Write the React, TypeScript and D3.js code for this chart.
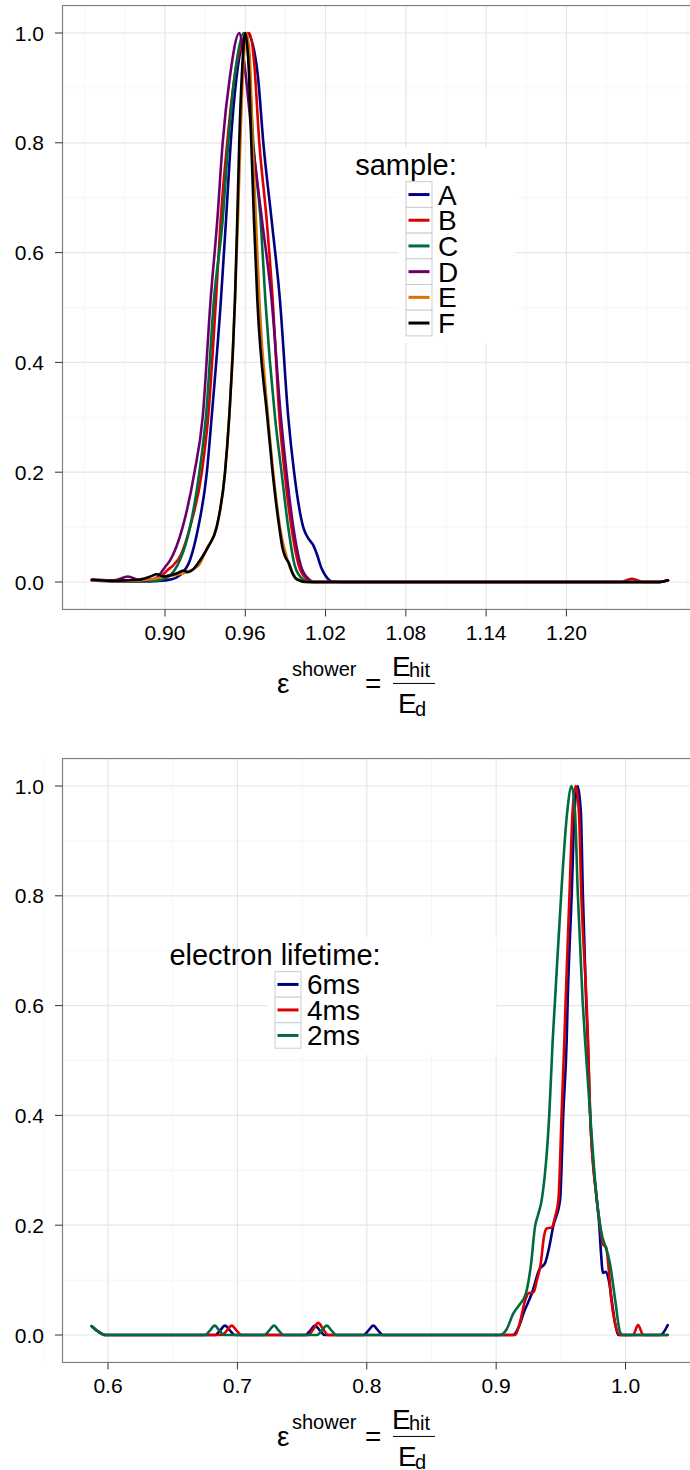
import React from 'react';
import * as d3 from 'd3';

// ---------- data ----------
const topXTicks = [0.9, 0.96, 1.02, 1.08, 1.14, 1.2];
const topXTickLabels = ['0.90', '0.96', '1.02', '1.08', '1.14', '1.20'];
const topXMinor = [0.84, 0.87, 0.93, 0.99, 1.05, 1.11, 1.17, 1.23, 1.26, 1.29];
const bottomXTicks = [0.6, 0.7, 0.8, 0.9, 1.0];
const bottomXTickLabels = ['0.6', '0.7', '0.8', '0.9', '1.0'];
const bottomXMinor = [0.55, 0.65, 0.75, 0.85, 0.95, 1.05];
const yTicks = [0, 0.2, 0.4, 0.6, 0.8, 1.0];
const yTickLabels = ['0.0', '0.2', '0.4', '0.6', '0.8', '1.0'];
const yMinor = [0.1, 0.3, 0.5, 0.7, 0.9];

const sampleNames = ['A', 'B', 'C', 'D', 'E', 'F'];
const sampleColors = ['#000080', '#dd0000', '#006b3c', '#6b006b', '#d97200', '#000000'];
const lifetimeNames = ['6ms', '4ms', '2ms'];
const lifetimeColors = ['#000080', '#dd0000', '#006b3c'];

type P = [number, number];

const topA: P[] = [[0.8454,0.003],[0.870,0.001],[0.895,0.002],[0.905,0.005],[0.911,0.012],[0.9187,0.04],[0.9249,0.1],[0.9312,0.198],[0.9349,0.301],[0.9418,0.514],[0.9456,0.659],[0.9491,0.8],[0.9535,0.92],[0.9575,0.98],[0.9615,1.0],[0.9655,0.98],[0.9695,0.92],[0.9735,0.8],[0.9797,0.659],[0.9859,0.514],[0.9921,0.301],[0.9966,0.198],[1.0033,0.1],[1.0075,0.078],[1.0106,0.068],[1.0136,0.05],[1.017,0.025],[1.021,0.008],[1.0246,0.001],[1.04,0],[1.27,0],[1.2759,0.003]];
const topB: P[] = [[0.8454,0.003],[0.875,0.002],[0.89,0.003],[0.897,0.01],[0.902,0.022],[0.906,0.03],[0.912,0.05],[0.9187,0.1],[0.9274,0.198],[0.9323,0.301],[0.9381,0.514],[0.9416,0.659],[0.9465,0.8],[0.952,0.92],[0.958,0.985],[0.963,1.0],[0.9665,0.95],[0.9705,0.8],[0.976,0.659],[0.9805,0.514],[0.9855,0.301],[0.9895,0.198],[0.9945,0.1],[1.0,0.03],[1.006,0.005],[1.01,0],[1.24,0],[1.2489,0.006],[1.258,0],[1.27,0],[1.2759,0.003]];
const topC: P[] = [[0.8454,0.004],[0.87,0.002],[0.889,0.001],[0.8985,0.005],[0.9067,0.02],[0.9112,0.04],[0.9187,0.1],[0.9256,0.198],[0.9306,0.301],[0.9366,0.514],[0.9431,0.659],[0.9473,0.8],[0.9525,0.93],[0.959,1.0],[0.9625,0.95],[0.966,0.8],[0.9715,0.659],[0.975,0.514],[0.9822,0.301],[0.9872,0.198],[0.9921,0.1],[0.997,0.03],[1.003,0.005],[1.008,0],[1.27,0],[1.2759,0.003]];
const topD: P[] = [[0.8454,0.004],[0.862,0.003],[0.8723,0.01],[0.88,0.004],[0.887,0.003],[0.8938,0.008],[0.9,0.027],[0.9037,0.039],[0.9132,0.1],[0.9219,0.198],[0.9282,0.301],[0.9341,0.514],[0.9391,0.659],[0.9431,0.8],[0.9485,0.92],[0.9555,1.0],[0.959,0.95],[0.9655,0.8],[0.9725,0.659],[0.9797,0.514],[0.9866,0.301],[0.9909,0.198],[0.9959,0.1],[1.0015,0.03],[1.0075,0.005],[1.011,0],[1.27,0],[1.2759,0.003]];
const topE: P[] = [[0.8454,0.003],[0.87,0.002],[0.89,0.005],[0.9,0.01],[0.912,0.015],[0.925,0.03],[0.931,0.06],[0.9386,0.1],[0.9448,0.198],[0.948,0.301],[0.9523,0.514],[0.9545,0.659],[0.9563,0.8],[0.9585,0.94],[0.961,1.0],[0.9635,0.95],[0.9655,0.8],[0.968,0.659],[0.9705,0.514],[0.977,0.301],[0.981,0.198],[0.9859,0.1],[0.9915,0.04],[0.999,0.005],[1.006,0],[1.27,0],[1.2759,0.003]];
const topF: P[] = [[0.8454,0.004],[0.86,0.002],[0.88,0.004],[0.889,0.01],[0.8938,0.014],[0.899,0.01],[0.9037,0.012],[0.909,0.016],[0.9137,0.021],[0.917,0.018],[0.9205,0.022],[0.9249,0.035],[0.929,0.05],[0.9323,0.064],[0.9386,0.1],[0.9448,0.198],[0.948,0.301],[0.9523,0.514],[0.954,0.659],[0.9555,0.8],[0.9578,0.94],[0.96,1.0],[0.9625,0.94],[0.9645,0.8],[0.9665,0.659],[0.969,0.514],[0.9764,0.301],[0.9805,0.198],[0.9854,0.1],[0.988,0.06],[0.99,0.045],[0.9925,0.035],[0.995,0.018],[0.9984,0.005],[1.006,0],[1.27,0],[1.2759,0.003]];

const bot6ms: P[] = [[0.5874,0.016],[0.5925,0.006],[0.5977,0],[0.683,0],[0.6865,0.008],[0.6904,0.017],[0.6943,0.008],[0.698,0],[0.7525,0],[0.7562,0.008],[0.76,0.017],[0.7638,0.008],[0.7675,0],[0.7975,0],[0.8012,0.008],[0.805,0.017],[0.8088,0.008],[0.8125,0],[0.913,0],[0.9175,0.015],[0.9212,0.04],[0.9276,0.076],[0.9335,0.12],[0.9378,0.131],[0.941,0.16],[0.944,0.197],[0.9494,0.246],[0.9519,0.404],[0.9545,0.537],[0.9553,0.61],[0.9584,0.804],[0.9605,0.95],[0.963,1.0],[0.9655,0.95],[0.967,0.804],[0.9695,0.61],[0.9708,0.537],[0.9726,0.404],[0.9778,0.246],[0.9798,0.197],[0.981,0.15],[0.9826,0.113],[0.9845,0.115],[0.987,0.1],[0.9893,0.064],[0.992,0.02],[0.9944,0],[1.027,0],[1.0326,0.018]];
const bot4ms: P[] = [[0.5874,0.016],[0.5925,0.006],[0.5977,0],[0.688,0],[0.6918,0.008],[0.6956,0.017],[0.6994,0.008],[0.7032,0],[0.755,0],[0.7588,0.011],[0.7625,0.022],[0.7662,0.011],[0.77,0],[0.9146,0],[0.9185,0.024],[0.922,0.06],[0.925,0.076],[0.929,0.078],[0.9315,0.1],[0.9345,0.131],[0.937,0.18],[0.939,0.194],[0.943,0.196],[0.9455,0.215],[0.9481,0.246],[0.9506,0.404],[0.9527,0.537],[0.9537,0.61],[0.9567,0.804],[0.959,0.95],[0.9615,1.0],[0.964,0.95],[0.9658,0.804],[0.9698,0.61],[0.971,0.537],[0.9726,0.404],[0.9778,0.246],[0.9805,0.197],[0.9825,0.165],[0.985,0.16],[0.987,0.12],[0.989,0.064],[0.992,0.02],[0.9955,0],[1.0057,0],[1.0097,0.018],[1.0137,0],[1.0326,0]];
const bot2ms: P[] = [[0.5874,0.016],[0.5925,0.006],[0.5977,0],[0.675,0],[0.6787,0.008],[0.6824,0.017],[0.6861,0.008],[0.6898,0],[0.7208,0],[0.7245,0.008],[0.7283,0.017],[0.732,0.008],[0.7357,0],[0.7615,0],[0.7652,0.008],[0.769,0.017],[0.7728,0.008],[0.7765,0],[0.903,0],[0.908,0.01],[0.9134,0.04],[0.918,0.055],[0.923,0.076],[0.927,0.13],[0.93,0.197],[0.9325,0.22],[0.9352,0.246],[0.9411,0.404],[0.9437,0.537],[0.9455,0.61],[0.9503,0.804],[0.9548,0.95],[0.9583,1.0],[0.961,0.95],[0.9631,0.804],[0.9668,0.61],[0.9687,0.537],[0.9726,0.404],[0.9778,0.246],[0.9805,0.197],[0.988,0.13],[0.992,0.064],[0.9958,0.005],[0.998,0],[1.0326,0]];

const topSeries = [topA, topB, topC, topD, topE, topF];
const bottomSeries = [bot6ms, bot4ms, bot2ms];

// ---------- layout ----------
const W = 690;
const H = 1470;
const FONT = '"Liberation Sans", Arial, Helvetica, sans-serif';
const PANEL_LEFT = 62.5;

type PanelProps = {
  offsetY: number;
  xDomain: [number, number];
  pxPerUnit: number;
  xTicks: number[];
  xTickLabels: string[];
  xMinor: number[];
  series: P[][];
  colors: string[];
  names: string[];
  legendTitle: string;
  legendKeyLeft: number;
  legendKeyTop: number;
  legendRowH: number;
  legendTitleBaseline: number;
  legendBg: { x: number; y: number; w: number; h: number };
};

function Panel(p: PanelProps) {
  const x = d3
    .scaleLinear()
    .domain(p.xDomain)
    .range([PANEL_LEFT, PANEL_LEFT + (p.xDomain[1] - p.xDomain[0]) * p.pxPerUnit]);
  const y = d3.scaleLinear().domain([0, 1]).range([582 + p.offsetY, 33 + p.offsetY]);
  const top = y(1.05);
  const bottom = y(-0.05);
  const right = x(p.xDomain[1]);
  const line = d3
    .line<P>()
    .x((d) => x(d[0]))
    .y((d) => y(d[1]))
    .curve(d3.curveMonotoneX);

  const t0 = bottom; // axis line y
  return (
    <g>
      <rect x={PANEL_LEFT} y={top} width={right - PANEL_LEFT} height={bottom - top} fill="#fff" />
      {p.xMinor.map((v, i) => (
        <line key={'xm' + i} x1={x(v)} x2={x(v)} y1={top} y2={bottom} stroke="#f4f4f4" strokeWidth={0.8} />
      ))}
      {yMinor.map((v, i) => (
        <line key={'ym' + i} x1={PANEL_LEFT} x2={right} y1={y(v)} y2={y(v)} stroke="#f4f4f4" strokeWidth={0.8} />
      ))}
      {p.xTicks.map((v, i) => (
        <line key={'xM' + i} x1={x(v)} x2={x(v)} y1={top} y2={bottom} stroke="#e6e6e6" strokeWidth={1.2} />
      ))}
      {yTicks.map((v, i) => (
        <line key={'yM' + i} x1={PANEL_LEFT} x2={right} y1={y(v)} y2={y(v)} stroke="#e6e6e6" strokeWidth={1.2} />
      ))}
      {/* legend background */}
      <rect x={p.legendBg.x} y={p.legendBg.y} width={p.legendBg.w} height={p.legendBg.h} fill="#fff" />
      {p.series.map((s, i) => (
        <path key={'s' + i} d={line(s) || ''} fill="none" stroke={p.colors[i]} strokeWidth={2.6} strokeLinejoin="round" strokeLinecap="round" />
      ))}
      {/* border */}
      <rect x={PANEL_LEFT} y={top} width={right - PANEL_LEFT} height={bottom - top} fill="none" stroke="#808080" strokeWidth={1.2} />
      {/* y axis */}
      {yTicks.map((v, i) => (
        <g key={'yt' + i}>
          <line x1={55} x2={PANEL_LEFT} y1={y(v)} y2={y(v)} stroke="#333" strokeWidth={1} />
          <text x={44} y={y(v) + 7.5} textAnchor="end" fontSize={21} fontFamily={FONT} fill="#000">
            {yTickLabels[i]}
          </text>
        </g>
      ))}
      {/* x axis */}
      {p.xTicks.map((v, i) => (
        <g key={'xt' + i}>
          <line x1={x(v)} x2={x(v)} y1={t0} y2={t0 + 7} stroke="#333" strokeWidth={1} />
          <text x={x(v)} y={t0 + 31} textAnchor="middle" fontSize={21} fontFamily={FONT} fill="#000">
            {p.xTickLabels[i]}
          </text>
        </g>
      ))}
      {/* axis title */}
      <g fontFamily={FONT} fill="#000">
        <text x={277} y={t0 + 84} fontSize={28}>ε</text>
        <text x={292} y={t0 + 67} fontSize={20}>shower</text>
        <text x={365} y={t0 + 83.5} fontSize={28}>=</text>
        <text x={392} y={t0 + 67} fontSize={28}>E</text>
        <text x={409} y={t0 + 68} fontSize={20}>hit</text>
        <line x1={393} x2={435} y1={t0 + 74} y2={t0 + 74} stroke="#000" strokeWidth={1} />
        <text x={398} y={t0 + 104} fontSize={28}>E</text>
        <text x={415} y={t0 + 107} fontSize={20}>d</text>
      </g>
      {/* legend */}
      <g fontFamily={FONT} fill="#000">
        <text x={p.legendKeyLeft} y={p.legendTitleBaseline} textAnchor="middle" fontSize={29}>
          {p.legendTitle}
        </text>
        {p.names.map((n, i) => {
          const ky = p.legendKeyTop + i * p.legendRowH;
          return (
            <g key={'lg' + i}>
              <rect x={p.legendKeyLeft} y={ky} width={26} height={p.legendRowH} fill="#fff" stroke="#cccccc" strokeWidth={1} />
              <line x1={p.legendKeyLeft + 2.5} x2={p.legendKeyLeft + 23.5} y1={ky + p.legendRowH / 2} y2={ky + p.legendRowH / 2} stroke={p.colors[i]} strokeWidth={3} />
              <text x={p.legendKeyLeft + 32} y={ky + p.legendRowH / 2 + 10} fontSize={28}>
                {n}
              </text>
            </g>
          );
        })}
      </g>
    </g>
  );
}

export default function App() {
  return (
    <svg
      width={W}
      height={H}
      viewBox={`0 0 ${W} ${H}`}
      style={{ position: 'absolute', left: 0, top: 0, display: 'block', background: '#fff' }}
    >
      <rect x={0} y={0} width={W} height={H} fill="#fff" />
      <Panel
        offsetY={0}
        xDomain={[0.8234, 1.2974]}
        pxPerUnit={1338}
        xTicks={topXTicks}
        xTickLabels={topXTickLabels}
        xMinor={topXMinor}
        series={topSeries}
        colors={sampleColors}
        names={sampleNames}
        legendTitle="sample:"
        legendKeyLeft={406}
        legendKeyTop={181.7}
        legendRowH={25.7}
        legendTitleBaseline={175}
        legendBg={{ x: 398.5, y: 148, w: 117, h: 195 }}
      />
      <Panel
        offsetY={753}
        xDomain={[0.5648, 1.0549]}
        pxPerUnit={1293.75}
        xTicks={bottomXTicks}
        xTickLabels={bottomXTickLabels}
        xMinor={bottomXMinor}
        series={bottomSeries}
        colors={lifetimeColors}
        names={lifetimeNames}
        legendTitle="electron lifetime:"
        legendKeyLeft={275}
        legendKeyTop={971.7}
        legendRowH={25.5}
        legendTitleBaseline={965}
        legendBg={{ x: 267.5, y: 937, w: 229, h: 118 }}
      />
    </svg>
  );
}
